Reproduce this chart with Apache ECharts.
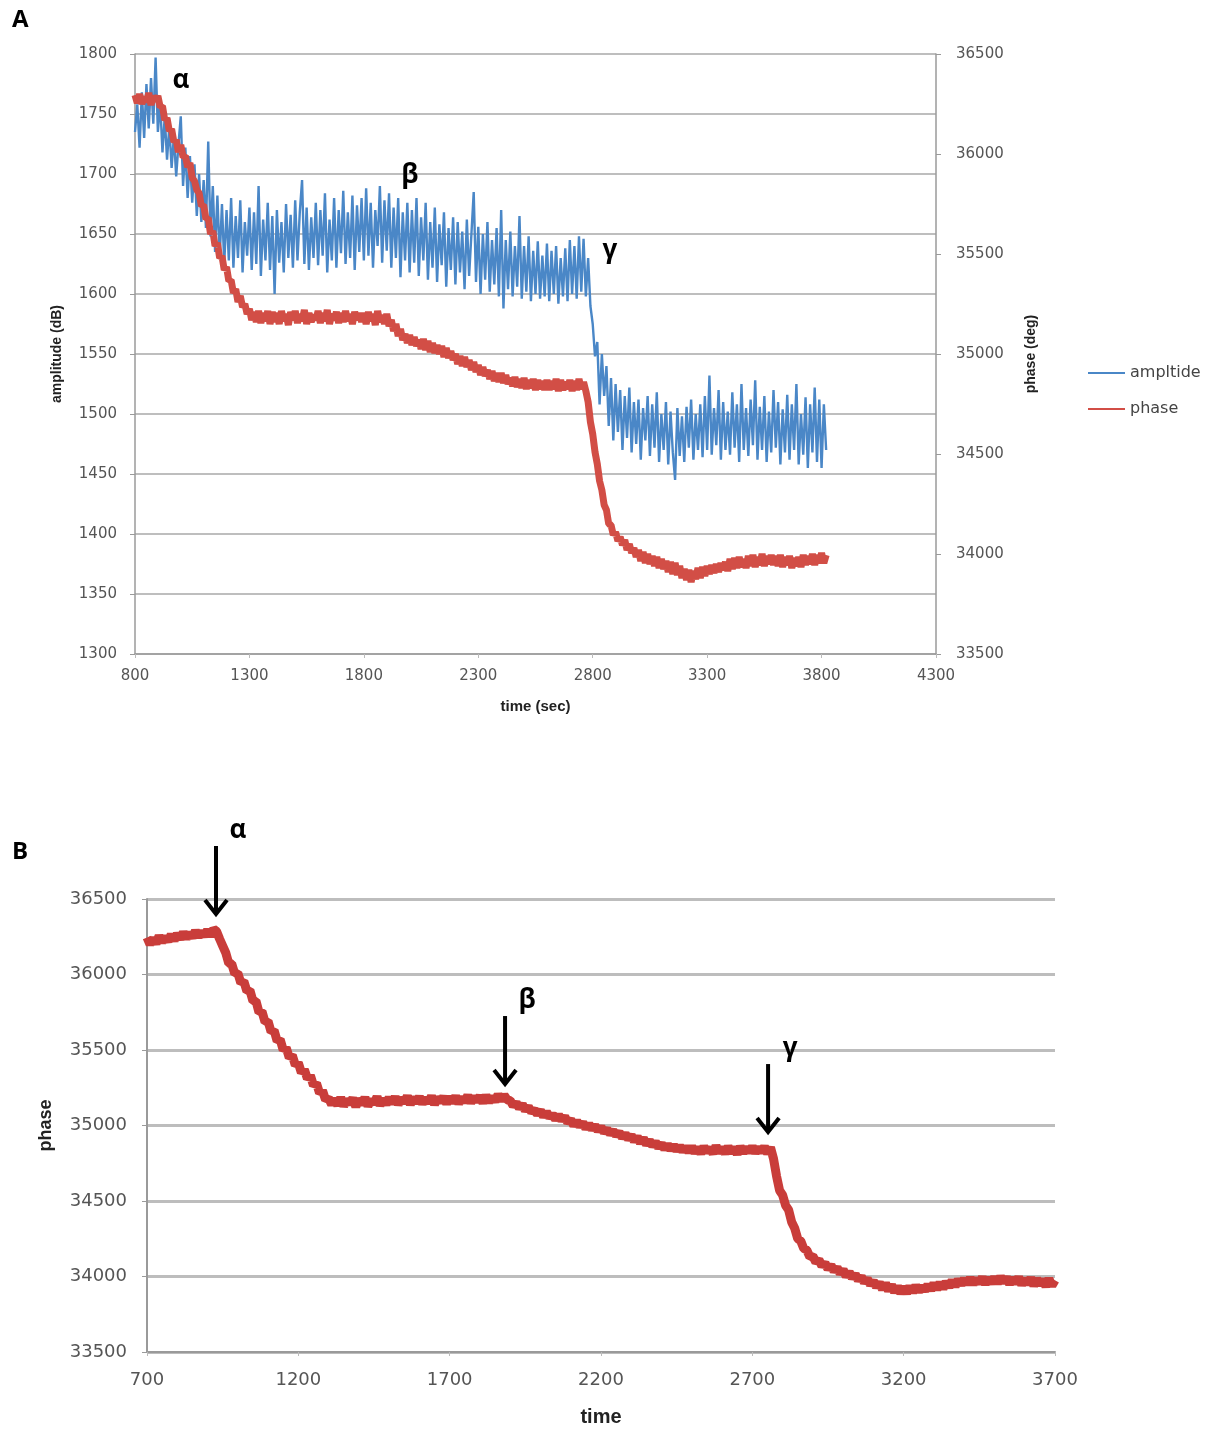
<!DOCTYPE html>
<html><head><meta charset="utf-8">
<script src="https://cdn.jsdelivr.net/npm/echarts@6/dist/echarts.min.js"></script>
<style>html,body{margin:0;padding:0;background:#fff}#c{width:1216px;height:1429px}</style>
</head><body><div id="c"></div>
<script>
// ---------- Panel A ----------
const timeAStart = 800, timeAStep = 10;           // sampling grid (sec)
const amplitudeA = [                              // dB, 800..3820 every 10 s
  1735,1758,1722,1768,1730,1775,1738,1780,1742,1797, 1735,1760,1718,1748,1712,1740,1705,1732,1698,1725,
  1748,1690,1722,1680,1715,1676,1708,1665,1700,1660, 1695,1655,1727,1648,1690,1635,1682,1630,1675,1625,
  1670,1628,1680,1622,1665,1630,1678,1618,1660,1632, 1672,1620,1668,1625,1690,1615,1662,1628,1676,1620,
  1665,1600,1670,1626,1660,1618,1675,1630,1666,1622, 1678,1628,1668,1695,1625,1672,1620,1664,1630,1676,
  1624,1670,1632,1684,1618,1662,1628,1680,1622,1670, 1634,1686,1625,1668,1630,1682,1620,1674,1635,1680,
  1628,1688,1632,1676,1622,1670,1640,1690,1626,1678, 1636,1684,1622,1672,1630,1680,1614,1668,1628,1676,
  1618,1670,1626,1680,1615,1664,1628,1676,1612,1660, 1622,1672,1610,1658,1624,1668,1606,1655,1620,1664,
  1608,1660,1618,1652,1604,1662,1615,1650,1685,1610, 1656,1600,1650,1612,1660,1602,1645,1608,1655,1598,
  1670,1588,1645,1604,1652,1598,1640,1606,1665,1596, 1640,1602,1648,1594,1636,1600,1644,1596,1632,1598,
  1642,1594,1636,1600,1640,1592,1630,1598,1638,1594, 1645,1600,1640,1596,1648,1602,1646,1598,1630,1590,
  1575,1548,1560,1508,1550,1515,1540,1490,1530,1478, 1525,1485,1520,1470,1515,1480,1522,1468,1510,1475,
  1512,1462,1505,1478,1515,1465,1508,1472,1518,1460, 1500,1470,1510,1458,1502,1468,1445,1505,1465,1498,
  1460,1506,1472,1512,1462,1500,1470,1508,1464,1515, 1470,1532,1466,1505,1474,1520,1462,1510,1470,1502,
  1466,1518,1472,1508,1460,1525,1470,1505,1465,1512, 1474,1528,1462,1506,1470,1515,1460,1502,1468,1520,
  1472,1510,1458,1504,1468,1516,1462,1508,1470,1525, 1458,1500,1466,1514,1455,1508,1468,1522,1460,1512,
  1455,1508,1470
];
const phaseA = [                                  // deg, 800..3820 every 10 s
  36295,36255,36300,36250,36285,36260,36305,36245,36290,36265, 36290,36235,36240,36170,36180,36115,36125,36060,36070,36010,
  36045,35985,35990,35935,35955,35880,35865,35820,35805,35740, 35745,35675,35680,35600,35615,35540,35555,35480,35490,35420,
  35435,35365,35370,35305,35325,35260,35290,35235,35250,35200, 35225,35170,35210,35160,35215,35155,35205,35165,35215,35150,
  35210,35160,35205,35150,35215,35165,35200,35145,35210,35170, 35215,35155,35200,35165,35220,35150,35205,35160,35195,35170,
  35215,35155,35205,35165,35220,35150,35200,35170,35210,35155, 35205,35160,35215,35165,35200,35150,35210,35170,35205,35160,
  35205,35150,35210,35165,35200,35145,35215,35160,35195,35150, 35200,35140,35170,35115,35150,35090,35125,35070,35100,35055,
  35095,35045,35085,35040,35070,35025,35075,35020,35065,35010, 35055,35005,35045,35000,35040,34985,35030,34980,35015,34970,
  35000,34950,34990,34940,34985,34935,34970,34920,34960,34910, 34945,34895,34935,34890,34920,34875,34915,34865,34905,34860,
  34905,34855,34895,34850,34880,34840,34885,34835,34875,34830, 34880,34825,34870,34830,34875,34820,34870,34825,34865,34820,
  34870,34820,34865,34825,34875,34815,34870,34820,34860,34825, 34870,34815,34865,34820,34875,34825,34860,34815,34760,34660,
  34600,34510,34450,34365,34320,34245,34220,34150,34145,34095, 34110,34065,34085,34045,34070,34020,34050,34005,34030,33985,
  34020,33965,34010,33955,34000,33950,33990,33940,33985,33930, 33975,33925,33965,33910,33960,33900,33955,33895,33940,33880,
  33925,33870,33920,33860,33915,33875,33930,33880,33935,33890, 33940,33900,33945,33905,33950,33910,33955,33920,33960,33915,
  33975,33925,33980,33930,33985,33935,33975,33930,33990,33940, 33995,33935,33985,33945,34000,33940,33990,33950,33995,33945,
  33990,33940,33995,33935,33985,33945,33990,33930,33980,33940, 33985,33935,33995,33945,33990,33950,34000,33945,33995,33955,
  34005,33955,33995
];
const seriesNamesA = ['ampltide', 'phase'];
const eventsA = [                                 // annotation letters [time, amplitude]
  { label: 'α', t: 1001, v: 1778 },
  { label: 'β', t: 2001, v: 1699 },
  { label: 'γ', t: 2875, v: 1636 }
];

// ---------- Panel B ----------
const timeBStart = 700, timeBStep = 10;
const phaseB = [                                  // deg, 700..3700 every 10 s
  36245,36200,36240,36205,36255,36215,36250,36220,36265,36225, 36270,36235,36280,36240,36275,36245,36290,36250,36285,36255,
  36295,36255,36300,36285,36235,36190,36145,36075,36070,36005, 36010,35945,35955,35890,35895,35825,35825,35750,35755,35685,
  35690,35620,35630,35560,35570,35500,35515,35450,35465,35400, 35415,35350,35370,35310,35330,35265,35280,35215,35230,35170,
  35180,35140,35175,35135,35185,35130,35170,35145,35180,35125, 35175,35140,35185,35130,35170,35145,35190,35135,35175,35140,
  35185,35145,35190,35140,35180,35150,35195,35140,35185,35150, 35190,35145,35180,35150,35195,35140,35185,35155,35190,35145,
  35190,35150,35195,35145,35185,35155,35200,35150,35190,35160, 35195,35150,35200,35155,35190,35160,35205,35165,35200,35170,
  35165,35130,35150,35115,35140,35100,35125,35090,35105,35075, 35100,35060,35090,35055,35075,35040,35070,35035,35060,35020,
  35040,35000,35030,34995,35020,34980,35010,34975,35000,34965, 34990,34955,34975,34945,34965,34935,34955,34920,34945,34910,
  34935,34895,34925,34885,34915,34875,34900,34865,34890,34855, 34880,34845,34875,34840,34870,34835,34865,34830,34860,34825,
  34860,34820,34855,34815,34860,34825,34850,34815,34865,34820, 34855,34815,34860,34820,34855,34810,34860,34820,34855,34825,
  34860,34820,34855,34825,34860,34815,34855,34780,34665,34570, 34540,34470,34440,34360,34320,34250,34235,34185,34175,34130,
  34135,34095,34110,34070,34090,34050,34075,34035,34060,34020, 34045,34000,34030,33990,34015,33975,34000,33960,33985,33945,
  33970,33930,33960,33915,33955,33905,33945,33895,33935,33890, 33930,33890,33935,33895,33940,33900,33935,33905,33945,33910,
  33955,33915,33960,33920,33965,33930,33975,33935,33980,33945, 33985,33950,33990,33950,33985,33955,33995,33950,33990,33955,
  33995,33955,34000,33960,33995,33950,33990,33955,33995,33945, 33985,33950,33990,33940,33985,33945,33980,33935,33985,33940,
  33975
];
const eventsB = [                                 // arrow tips [time, phase]
  { label: 'α', t: 928,  v: 36394 },
  { label: 'β', t: 1883, v: 35268 },
  { label: 'γ', t: 2752, v: 34950 }
];

const pairs = (arr, start, step) => arr.map((v, i) => [start + i * step, v]);
const plain = v => String(v);

const gray = '#9a9a9a';
const lblA = { color: '#555', fontSize: 15, fontFamily: 'DejaVu Sans', formatter: plain };
const lblB = { color: '#555', fontSize: 18, fontFamily: 'DejaVu Sans', formatter: plain };

const chart = echarts.init(document.getElementById('c'), null, { renderer: 'canvas' });
const option = {
  animation: false,
  backgroundColor: '#fff',
  grid: [
    { left: 135, top: 54, width: 801, height: 600 },
    { left: 147, top: 899, width: 908, height: 453 }
  ],
  legend: {
    data: seriesNamesA,
    orient: 'vertical',
    left: 1083, top: 360,
    icon: 'rect', itemWidth: 37, itemHeight: 2, itemGap: 20,
    textStyle: { color: '#444', fontSize: 16, fontFamily: 'DejaVu Sans' }
  },
  xAxis: [
    {
      type: 'value', gridIndex: 0, min: 800, max: 4300, interval: 500,
      axisLine: { lineStyle: { color: gray, width: 1.5 } },
      axisTick: { show: true, length: 4, lineStyle: { color: '#bbb' } },
      axisLabel: Object.assign({ margin: 15 }, lblA),
      splitLine: { show: false },
      name: 'time (sec)', nameLocation: 'middle', nameGap: 45,
      nameTextStyle: { color: '#222', fontSize: 15, fontWeight: 'bold', fontFamily: 'Liberation Sans' }
    },
    {
      type: 'value', gridIndex: 1, min: 700, max: 3700, interval: 500,
      axisLine: { lineStyle: { color: gray, width: 2 } },
      axisTick: { show: true, length: 4, lineStyle: { color: '#bbb' } },
      axisLabel: Object.assign({ margin: 19 }, lblB),
      splitLine: { show: false },
      name: 'time', nameLocation: 'middle', nameGap: 55,
      nameTextStyle: { color: '#222', fontSize: 20, fontWeight: 'bold', fontFamily: 'Liberation Sans' }
    }
  ],
  yAxis: [
    {
      type: 'value', gridIndex: 0, position: 'left', min: 1300, max: 1800, interval: 50,
      axisLine: { show: true, lineStyle: { color: gray, width: 1.5 } },
      axisTick: { show: true, length: 5, lineStyle: { color: gray } },
      axisLabel: Object.assign({ margin: 18 }, lblA),
      splitLine: { show: true, lineStyle: { color: '#a8a8a8', width: 1.5 } },
      name: 'amplitude (dB)', nameLocation: 'middle', nameGap: 71, nameRotate: 90,
      nameTextStyle: { color: '#222', fontSize: 14, fontWeight: 'bold', fontFamily: 'Liberation Sans' }
    },
    {
      type: 'value', gridIndex: 0, position: 'right', min: 33500, max: 36500, interval: 500,
      axisLine: { show: true, lineStyle: { color: gray, width: 1.5 } },
      axisTick: { show: true, length: 5, lineStyle: { color: gray } },
      axisLabel: Object.assign({ margin: 20 }, lblA),
      splitLine: { show: false },
      name: 'phase (deg)', nameLocation: 'middle', nameGap: 88, nameRotate: 90,
      nameTextStyle: { color: '#222', fontSize: 14, fontWeight: 'bold', fontFamily: 'Liberation Sans' }
    },
    {
      type: 'value', gridIndex: 1, position: 'left', min: 33500, max: 36500, interval: 500,
      axisLine: { show: true, lineStyle: { color: gray, width: 2 } },
      axisTick: { show: true, length: 5, lineStyle: { color: gray } },
      axisLabel: Object.assign({ margin: 20 }, lblB),
      splitLine: { show: true, lineStyle: { color: '#bdbdbd', width: 3 } },
      name: 'phase', nameLocation: 'middle', nameGap: 92, nameRotate: 90,
      nameTextStyle: { color: '#222', fontSize: 18, fontWeight: 'bold', fontFamily: 'Liberation Sans' }
    }
  ],
  series: [
    {
      name: seriesNamesA[0], type: 'line', xAxisIndex: 0, yAxisIndex: 0,
      data: pairs(amplitudeA, timeAStart, timeAStep),
      symbol: 'none', color: '#4a87c7',
      lineStyle: { color: '#4a87c7', width: 2.4 }
    },
    {
      name: seriesNamesA[1], type: 'line', xAxisIndex: 0, yAxisIndex: 1,
      data: pairs(phaseA, timeAStart, timeAStep),
      symbol: 'none', color: '#d24e46',
      lineStyle: { color: '#d24e46', width: 7 }
    },
    {
      name: 'phase B', type: 'line', xAxisIndex: 1, yAxisIndex: 2,
      data: pairs(phaseB, timeBStart, timeBStep),
      symbol: 'none', color: '#c93d3a',
      lineStyle: { color: '#c93d3a', width: 9 }
    }
  ]
};
chart.setOption(option);

// annotations positioned through the axes' own scales
const graphics = [
  { type: 'text', left: 12, top: 8, style: { text: 'A', fill: '#000', font: 'bold 24px "Open Sans", "Liberation Sans"' } },
  { type: 'text', left: 12, top: 840, style: { text: 'B', fill: '#000', font: 'bold 24px "Open Sans", "Liberation Sans"' } }
];
eventsA.forEach(e => {
  const p = chart.convertToPixel({ xAxisIndex: 0, yAxisIndex: 0 }, [e.t, e.v]);
  graphics.push({ type: 'text', x: p[0], y: p[1],
    style: { text: e.label, fill: '#000', font: 'bold 26px "Open Sans"', textAlign: 'center', textVerticalAlign: 'middle' } });
});
eventsB.forEach(e => {
  const p = chart.convertToPixel({ xAxisIndex: 1, yAxisIndex: 2 }, [e.t, e.v]);
  const x = p[0], y = p[1];
  graphics.push({ type: 'line', shape: { x1: x, y1: y - 69, x2: x, y2: y - 3 }, style: { stroke: '#000', lineWidth: 4 } });
  graphics.push({ type: 'polyline', shape: { points: [[x - 11, y - 15], [x, y - 1], [x + 11, y - 15]] }, style: { stroke: '#000', lineWidth: 4, fill: null } });
  graphics.push({ type: 'text', x: x + 22, y: y - 84,
    style: { text: e.label, fill: '#000', font: 'bold 26px "Open Sans"', textAlign: 'center', textVerticalAlign: 'middle' } });
});
chart.setOption({ graphic: graphics });
</script>
</body></html>
